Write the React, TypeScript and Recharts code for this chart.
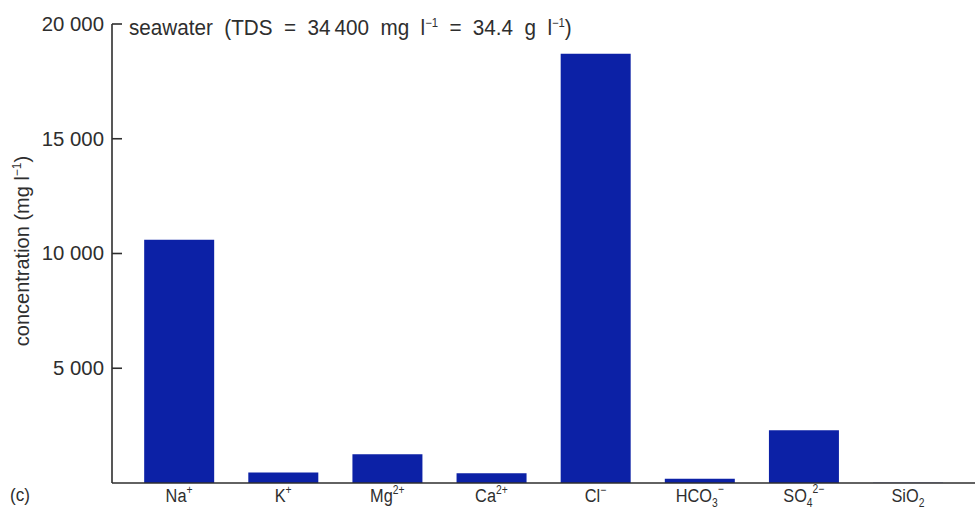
import { BarChart, Bar, XAxis, YAxis } from "recharts";

// seawater major constituents, mg/l
const ions = ["Na+", "K+", "Mg2+", "Ca2+", "Cl-", "HCO3-", "SO42-", "SiO2"];
const concentration = [10600, 460, 1250, 420, 18700, 180, 2300, 6];
const labelBase = ["Na", "K", "Mg", "Ca", "Cl", "HCO", "SO", "SiO"];
const labelSub = ["", "", "", "", "", "3", "4", "2"];
const labelSup = ["+", "+", "2+", "2+", "\u2212", "\u2212", "2\u2212", ""];
const yTicks = [5000, 10000, 15000, 20000];

const data = ions.map((ion, i) => ({ ion, value: concentration[i] }));

const FONT = '"Liberation Sans", Arial, sans-serif';
const INK = "#2e2e2e";
const SQUEEZE = 0.86;

function fmt(v: number) {
  return String(v).replace(/\B(?=(\d{3})+(?!\d))/g, " ");
}

function YTick(props: any) {
  const { x, y, payload } = props;
  const tx = x - 8;
  return (
    <g>
      <line x1={x} x2={x + 10} y1={y} y2={y} stroke={INK} strokeWidth={1.6} />
      <g transform={`translate(${tx},0) scale(0.97,1) translate(${-tx},0)`}>
        <text x={tx} y={y} dy={7} textAnchor="end" fontSize={21} fill={INK} fontFamily={FONT}>
          {fmt(payload.value)}
        </text>
      </g>
    </g>
  );
}

function XTick(props: any) {
  const { x, y, index } = props;
  return (
    <g transform={`translate(${x},0) scale(${SQUEEZE},1) translate(${-x},0)`}>
      <text x={x} y={y + 11} textAnchor="middle" fontSize={19} fill={INK} fontFamily={FONT}>
        <tspan>{labelBase[index]}</tspan>
        {labelSub[index] && (
          <tspan fontSize={12} dy={5}>{labelSub[index]}</tspan>
        )}
        {labelSup[index] && (
          <tspan fontSize={12} dy={labelSub[index] ? -14 : -8}>{labelSup[index]}</tspan>
        )}
      </text>
    </g>
  );
}

export default function App() {
  return (
    <div style={{ position: "absolute", left: 0, top: 0, width: 977, height: 521, background: "#fff", fontFamily: FONT, color: INK }}>
      <BarChart
        width={977}
        height={521}
        data={data}
        margin={{ top: 24, right: 2, bottom: 8, left: 0 }}
        barCategoryGap="16.5%"
      >
        <XAxis
          dataKey="ion"
          height={30}
          tickLine={false}
          tick={<XTick />}
          stroke={INK}
          strokeWidth={1.6}
          padding={{ left: 15, right: 15 }}
          interval={0}
        />
        <YAxis
          width={112}
          domain={[0, 20000]}
          ticks={yTicks}
          tickSize={0}
          tickMargin={0}
          tickLine={false}
          tick={<YTick />}
          stroke={INK}
          strokeWidth={1.6}
          allowDataOverflow
        />
        <Bar dataKey="value" fill="#0c21a6" isAnimationActive={false} />
      </BarChart>
      <div
        style={{
          position: "absolute",
          left: 129,
          top: 15,
          fontSize: 22,
          lineHeight: "26px",
          whiteSpace: "nowrap",
          wordSpacing: 6,
          transform: "scaleX(0.94)",
          transformOrigin: "left center",
        }}
      >
        seawater (TDS = 34{"\u2009"}400 mg l<sup style={{ fontSize: 12, lineHeight: 0 }}>−1</sup> = 34.4 g l
        <sup style={{ fontSize: 12, lineHeight: 0 }}>−1</sup>)
      </div>
      <div
        style={{
          position: "absolute",
          left: 22,
          top: 251,
          fontSize: 20,
          whiteSpace: "nowrap",
          transform: "translate(-50%, -50%) rotate(-90deg)",
        }}
      >
        concentration (mg l<sup style={{ fontSize: 12, lineHeight: 0 }}>−1</sup>)
      </div>
      <div style={{ position: "absolute", left: 10, top: 484, fontSize: 19, transform: "scaleX(0.9)", transformOrigin: "left center" }}>
        (c)
      </div>
    </div>
  );
}
